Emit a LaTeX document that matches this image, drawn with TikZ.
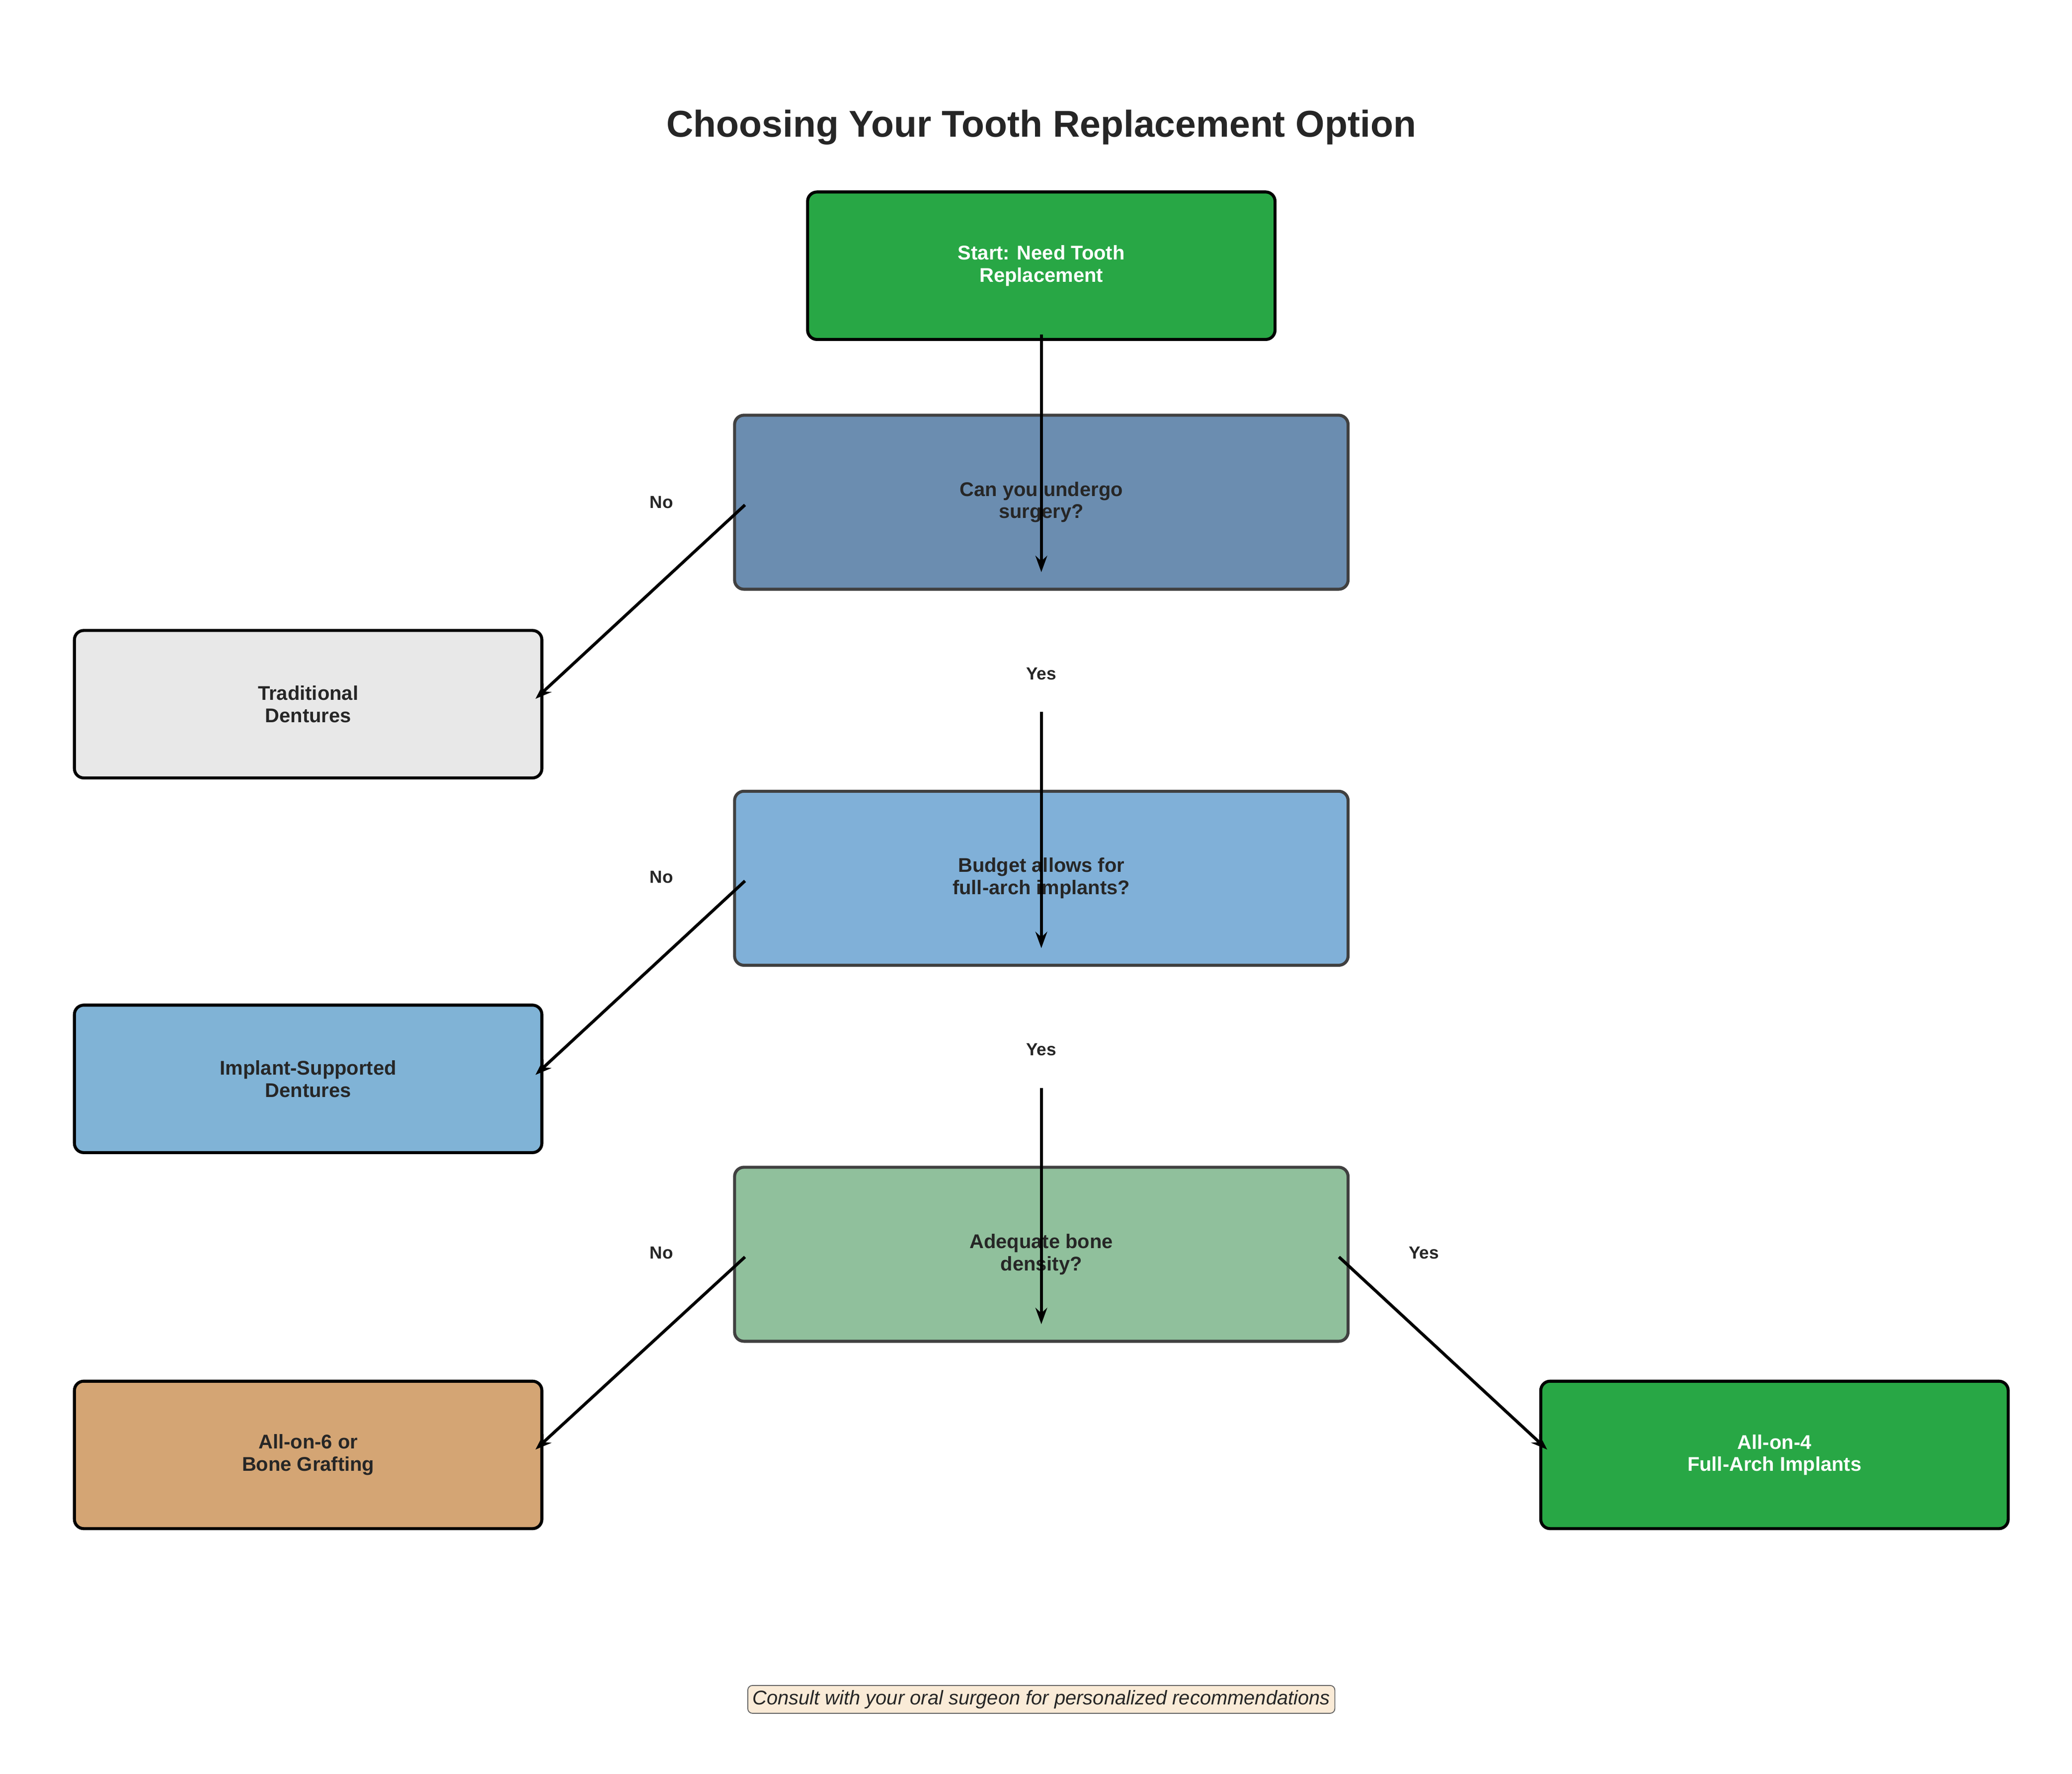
\documentclass[tikz,border=0pt]{standalone}
\usepackage{fontspec}
\setmainfont{Liberation Sans}
\usetikzlibrary{positioning, calc, arrows.meta}
\definecolor{startgreen}{HTML}{28A745}
\definecolor{qone}{HTML}{6B8DB0}
\definecolor{qtwo}{HTML}{80B0D8}
\definecolor{qthree}{HTML}{90C09C}
\definecolor{optgray}{HTML}{E8E8E8}
\definecolor{optblue}{HTML}{80B3D6}
\definecolor{opttan}{HTML}{D4A574}
\definecolor{notefill}{HTML}{FAEBD7}

\begin{document}
\begin{tikzpicture}[x=0.02cm, y=-0.02cm, font=\fontsize{8.5}{9.5}\selectfont\bfseries]
		\tikzset{
		    box/.style= {rectangle, rounded corners=4pt, draw=black, line width=1.3pt, minimum width=7.04cm, minimum height=2.22cm, align=center, text=black!85},
		    question/.style= {box, draw=black!75, minimum width=9.24cm, minimum height=2.62cm},
		    flow/.style= {-{Stealth[length=7pt, width=5pt]}, line width=1.3pt},
		    lbl/.style= {font=\fontsize{7.5}{9}\selectfont\bfseries, text=black!85},
		}
		\useasboundingbox (0,0) rectangle (1560,1335);
		
		\node[font=\fontsize{16}{18}\selectfont\bfseries, text=black!85] (title) at (784,96) {Choosing Your Tooth Replacement Option};
		
		\node[box, fill=startgreen, text=white] (start) at (784,200) {Start: Need Tooth\\Replacement};
		\node[question, fill=qone] (surgery) at (784,378) {Can you undergo\\surgery?};
		\node[box, fill=optgray] (dentures) at (232,530) {Traditional\\Dentures};
		\node[question, fill=qtwo] (budget) at (784,661) {Budget allows for\\full-arch implants?};
		\node[box, fill=optblue] (implantdent) at (232,812) {Implant-Supported\\Dentures};
		\node[question, fill=qthree] (bone) at (784,944) {Adequate bone\\density?};
		\node[box, fill=opttan] (allsix) at (232,1095) {All-on-6 or\\Bone Grafting};
		\node[box, fill=startgreen, text=white] (allfour) at (1336,1095) {All-on-4\\Full-Arch Implants};
		
		\node[draw=black!60, fill=notefill, rounded corners=2pt, inner sep=2pt, font=\fontsize{8.5}{9.5}\selectfont\itshape, text=black!85] (note) at (784,1279) {Consult with your oral surgeon for personalized recommendations};
		
		% labels
		\node[lbl] (no1) at (498,378) {No};
		\node[lbl] (no2) at (498,660) {No};
		\node[lbl] (no3) at (498,943) {No};
		\node[lbl] (yes1) at (784,507) {Yes};
		\node[lbl] (yes2) at (784,790) {Yes};
		\node[lbl] (yes3) at (1072,943) {Yes};
		
		\draw[flow] ($(start.south)+(0,-5)$) -- ($(surgery.south)+(0,-14)$);
		\draw[flow] ($(yes1.south)+(0,18)$) -- ($(budget.south)+(0,-14)$);
		\draw[flow] ($(yes2.south)+(0,18)$) -- ($(bone.south)+(0,-14)$);
		\draw[flow] ($(surgery.west)+(9,2)$) -- ($(dentures.east)+(-6,-4)$);
		\draw[flow] ($(budget.west)+(9,2)$) -- ($(implantdent.east)+(-6,-3)$);
		\draw[flow] ($(bone.west)+(9,2)$) -- ($(allsix.east)+(-6,-4)$);
		\draw[flow] ($(bone.east)+(-8,2)$) -- ($(allfour.west)+(6,-4)$);
	\end{tikzpicture}
\end{document}
